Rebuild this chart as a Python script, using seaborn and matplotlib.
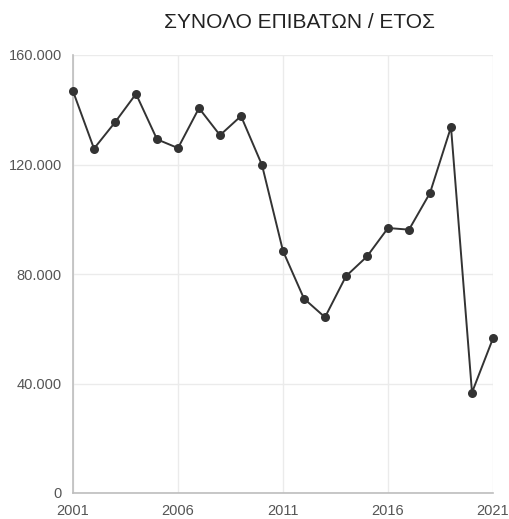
import matplotlib
matplotlib.use("Agg")
import matplotlib.pyplot as plt
import matplotlib.ticker as mticker
import seaborn as sns
import pandas as pd

years = list(range(2001, 2022))
passengers = [146800, 125800, 135400, 145800, 129200, 126000, 140600, 130700,
              137700, 119800, 88400, 71000, 64200, 79200, 86400, 96800, 96200,
              109600, 133700, 36700, 56500]
title = "ΣΥΝΟΛΟ ΕΠΙΒΑΤΩΝ / ΕΤΟΣ"
x_ticks = [2001, 2006, 2011, 2016, 2021]
y_ticks = [0, 40000, 80000, 120000, 160000]

df = pd.DataFrame({"year": years, "passengers": passengers})

sns.set_theme(style="white")
plt.rcParams['font.family'] = ['Liberation Sans', 'DejaVu Sans']

fig = plt.figure(figsize=(5.09, 5.19), dpi=100)
W, H = 509, 519
ax = fig.add_axes([73 / W, 1 - 493 / H, (493 - 73) / W, (493 - 55) / H])

sns.lineplot(data=df, x="year", y="passengers", ax=ax, color="#333333",
             linewidth=1.4, marker="o", markersize=6.5, markeredgewidth=0,
             zorder=3, clip_on=False)

ax.set_xlim(2001, 2021)
ax.set_ylim(0, 160000)
ax.set_xticks(x_ticks)
ax.set_yticks(y_ticks)
ax.yaxis.set_major_formatter(mticker.FuncFormatter(
    lambda v, p: f"{int(v):,}".replace(",", ".")))
ax.grid(True, color="#ebebeb", linewidth=1)
ax.set_axisbelow(True)
ax.set_xlabel("")
ax.set_ylabel("")
for s in ["top", "right"]:
    ax.spines[s].set_visible(False)
for s in ["left", "bottom"]:
    ax.spines[s].set_color("#bdbdbd")
    ax.spines[s].set_linewidth(1.2)
ax.tick_params(axis="both", length=0, labelsize=10.5, colors="#555555")
ax.tick_params(axis="y", pad=8)
ax.tick_params(axis="x", pad=8)

fig.text(299 / W, 1 - 23 / H, title, ha="center", va="center",
         fontsize=15, color="#222222")

fig.savefig("out.png", dpi=100, facecolor="white")
